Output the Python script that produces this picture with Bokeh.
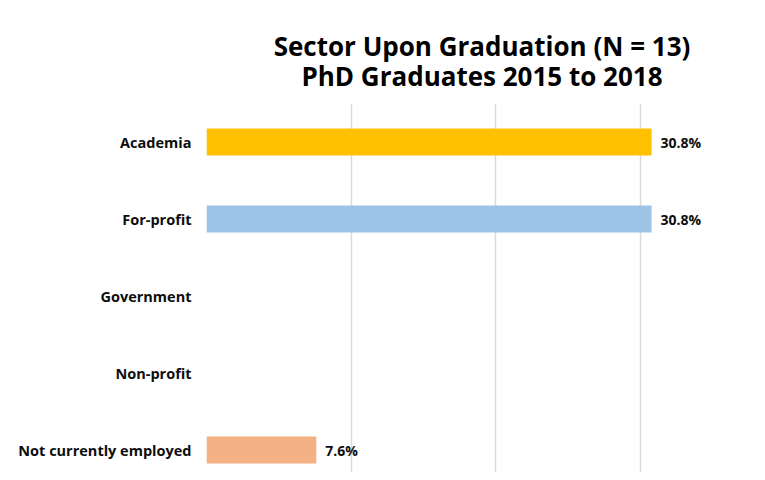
from bokeh.plotting import figure
from bokeh.models import Range1d, FixedTicker, Title, ColumnDataSource
from bokeh.core.properties import value
from bokeh.embed import file_html
from bokeh.resources import INLINE

categories = ["Academia", "For-profit", "Government", "Non-profit", "Not currently employed"]
percents = [30.8, 30.8, 0.0, 0.0, 7.6]
colors = ["#FFC000", "#9DC3E6", "#A5A5A5", "#5B9BD5", "#F4B183"]
grid_ticks = [0, 10, 20, 30, 40]
title_lines = ["Sector Upon Graduation (N = 13)", "PhD Graduates 2015 to 2018"]

n = len(categories)
ypos = [n - 1 - i for i in range(n)]

FONT = "Open Sans"

p = figure(width=757, height=472, output_backend="svg", toolbar_location=None,
           x_range=Range1d(0, 38.13), y_range=Range1d(-0.292, 4.5),
           min_border_left=206, min_border_right=0, min_border_bottom=0,
           min_border_top=103, x_axis_location=None)
p.outline_line_color = None
p.background_fill_color = "white"
p.border_fill_color = "white"

src = ColumnDataSource(dict(y=ypos, v=percents, c=colors, cat=categories))
p.hbar(y="y", left=0, right="v", height=0.35, fill_color="c", line_color=None, source=src)

lab_y = [ypos[i] for i in range(n) if percents[i] > 0]
lab_v = [percents[i] for i in range(n) if percents[i] > 0]
lab_t = [f"{percents[i]}%" for i in range(n) if percents[i] > 0]
p.text(x=lab_v, y=lab_y, text=lab_t, x_offset=9, text_align="left", text_baseline="middle",
       text_font=value(FONT), text_font_style="bold", text_font_size="14px", text_color="#0d0d0d")

p.xgrid.ticker = FixedTicker(ticks=grid_ticks)
p.xgrid.grid_line_color = "#d9d9d9"
p.xgrid.grid_line_width = 1.5
p.ygrid.grid_line_color = None

p.yaxis.ticker = FixedTicker(ticks=ypos)
p.yaxis.major_label_overrides = {ypos[i]: categories[i] for i in range(n)}
p.yaxis.axis_line_color = None
p.yaxis.major_tick_line_color = None
p.yaxis.minor_tick_line_color = None
p.yaxis.major_tick_out = 0
p.yaxis.major_tick_in = 0
p.yaxis.major_label_standoff = 15
p.yaxis.major_label_text_font = FONT
p.yaxis.major_label_text_font_style = "bold"
p.yaxis.major_label_text_font_size = "14.5px"
p.yaxis.major_label_text_color = "#0d0d0d"

title = Title(text="\n".join(title_lines), align="center", vertical_align="top",
              text_font=FONT, text_font_style="bold", text_font_size="26px",
              text_color="#000000", text_line_height=0.82, standoff=15)
try:
    title.text_align = "center"
except Exception:
    pass
p.title = title

open("out.html", "w").write(file_html(p, INLINE))
